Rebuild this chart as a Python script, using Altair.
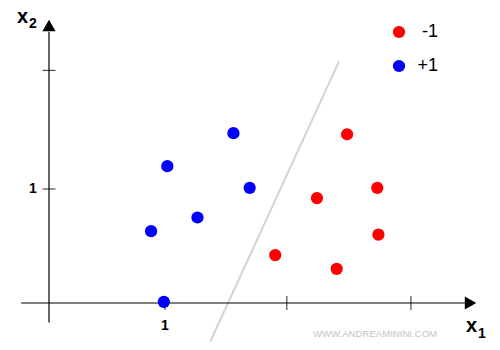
import altair as alt
import pandas as pd

# ---- data (x1, x2 units) ----
red_x = [2.57, 2.83, 2.31, 2.84, 1.95, 2.48]
red_y = [1.48, 1.01, 0.92, 0.60, 0.42, 0.30]
blue_x = [0.99, 1.59, 1.02, 1.73, 1.28, 0.88]
blue_y = [0.01, 1.49, 1.20, 1.01, 0.75, 0.63]
classes = ["-1", "+1"]
class_colors = ["#ff0000", "#0000ff"]

sep_x = [1.39, 2.50]
sep_y = [-0.34, 2.12]

x_axis_span = [-0.24, 3.59]
y_axis_span = [-0.17, 2.38]
x_ticks = [1.0, 2.05, 3.12]
y_ticks = [1.0, 2.04]
x_tick_labels = ["1", "", ""]
y_tick_labels = ["1", ""]
arrow_x = [3.634, 0.0]
arrow_y = [0.0, 2.434]
arrow_shapes = ["triangle-right", "triangle-up"]

FONT = "Liberation Sans"

pts = pd.DataFrame({
    "x1": red_x + blue_x,
    "x2": red_y + blue_y,
    "class": [classes[0]] * len(red_x) + [classes[1]] * len(blue_x),
})

xs = alt.Scale(domain=[-49 / 116, 451 / 116], nice=False, zero=False)
ys = alt.Scale(domain=[-47 / 114, 303 / 114], nice=False, zero=False)


def X(f):
    return alt.X(f"{f}:Q", scale=xs, axis=None)


def Y(f):
    return alt.Y(f"{f}:Q", scale=ys, axis=None)


axes_df = pd.DataFrame({
    "x": [x_axis_span[0], 0.0], "x2": [x_axis_span[1], 0.0],
    "y": [0.0, y_axis_span[0]], "y2": [0.0, y_axis_span[1]],
})
axes = alt.Chart(axes_df).mark_rule(color="black", strokeWidth=1.2).encode(
    x=X("x"), x2="x2:Q", y=Y("y"), y2="y2:Q"
)

arrows = alt.Chart(pd.DataFrame({"x": arrow_x, "y": arrow_y, "s": arrow_shapes})).mark_point(
    filled=True, color="black", opacity=1, size=175
).encode(x=X("x"), y=Y("y"), shape=alt.Shape("s:N", scale=None))

xt_df = pd.DataFrame({"x": x_ticks, "y": [0.0] * len(x_ticks), "lab": x_tick_labels})
yt_df = pd.DataFrame({"x": [0.0] * len(y_ticks), "y": y_ticks, "lab": y_tick_labels})

xticks = alt.Chart(xt_df).mark_tick(orient="vertical", size=14, thickness=1.2, color="black").encode(
    x=X("x"), y=Y("y")
)
yticks = alt.Chart(yt_df).mark_tick(orient="horizontal", size=13, thickness=1.2, color="black").encode(
    x=X("x"), y=Y("y")
)
xlabels = alt.Chart(xt_df).mark_text(
    font=FONT, fontSize=14, fontWeight="bold", dy=23, baseline="middle", align="center", color="black"
).encode(x=X("x"), y=Y("y"), text="lab:N")
ylabels = alt.Chart(yt_df).mark_text(
    font=FONT, fontSize=14, fontWeight="bold", dx=-16, baseline="middle", align="center", color="black"
).encode(x=X("x"), y=Y("y"), text="lab:N")

sep = alt.Chart(pd.DataFrame({"x": [sep_x[0]], "x2": [sep_x[1]], "y": [sep_y[0]], "y2": [sep_y[1]]})).mark_rule(
    color="#d4d4d4", strokeWidth=2
).encode(x=X("x"), x2="x2:Q", y=Y("y"), y2="y2:Q")

points = alt.Chart(pts).mark_circle(size=150, opacity=1).encode(
    x=X("x1"), y=Y("x2"),
    color=alt.Color(
        "class:N",
        scale=alt.Scale(domain=classes, range=class_colors),
        sort=classes,
        legend=alt.Legend(
            title=None, orient="none", legendX=390, legendY=23,
            symbolType="circle", symbolSize=150, symbolStrokeWidth=0,
            labelFont=FONT, labelFontSize=18, labelColor="black",
            labelAlign="right", labelOffset=30, rowPadding=16, padding=0,
        ),
    ),
)


def txt(s, px, py, size, weight="bold", color="black", align="left"):
    return alt.Chart(pd.DataFrame({"t": [s]})).mark_text(
        font=FONT, fontSize=size, fontWeight=weight, color=color, align=align, baseline="alphabetic"
    ).encode(x=alt.value(px), y=alt.value(py), text="t:N")


titles = [
    txt("x", 17, 23, 20), txt("2", 29, 28, 14),
    txt("x", 466, 332, 20), txt("1", 478, 338, 14),
    txt("WWW.ANDREAMININI.COM", 375, 337, 9.6, weight="normal", color="#c4c4c4", align="center"),
]

chart = alt.layer(sep, axes, arrows, xticks, yticks, xlabels, ylabels, points, *titles).properties(
    width=500, height=350, padding=0, autosize=alt.AutoSizeParams(type="none")
).configure_view(stroke=None)

chart.save("out.html", embed_options={"renderer": "svg", "actions": False})
